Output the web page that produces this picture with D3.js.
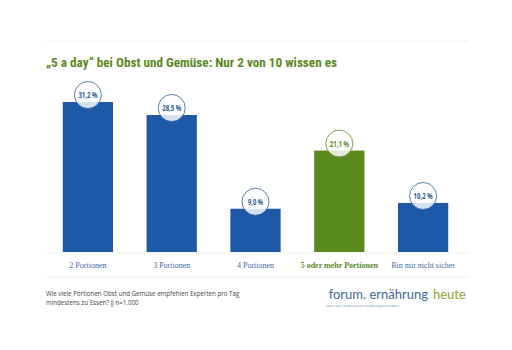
<!DOCTYPE html>
<html>
<head>
<meta charset="utf-8">
<script src="https://cdn.jsdelivr.net/npm/d3@7"></script>
<style>
  body { margin: 0; background: #fff; }
</style>
</head>
<body>
<script>
// data
var categories = ["2 Portionen", "3 Portionen", "4 Portionen", "5 oder mehr Portionen", "Bin mir nicht sicher"];
var values = [31.2, 28.5, 9.0, 21.1, 10.2];
var highlight = [false, false, false, true, false];
var title = "\u201E5 a day\u201C bei Obst und Gem\u00FCse: Nur 2 von 10 wissen es";
var noteLines = ["Wie viele Portionen Obst und Gem\u00FCse empfehlen Experten pro Tag", "mindestens zu Essen? \u2016 n=1.000"];

var blue = "#1d59a6", green = "#5b8a1f", labelBlue = "#3f6aa8";

var svg = d3.select("body").append("svg")
    .attr("width", 512)
    .attr("height", 350);

var left = 46, right = 470, baseY = 252;

// dotted rules
[41, 253, 277].forEach(function (y) {
    svg.append("line")
        .attr("x1", left).attr("x2", right)
        .attr("y1", y).attr("y2", y)
        .attr("stroke", "#dde6cf")
        .attr("stroke-width", 1)
        .attr("stroke-dasharray", "1,1");
});

svg.append("text")
    .attr("x", left).attr("y", 67)
    .attr("font-family", "'Liberation Sans Narrow', 'Roboto Condensed', 'Open Sans', sans-serif")
    .attr("font-weight", "bold")
    .attr("font-size", "13.5px")
    .attr("fill", green)
    .attr("textLength", 291)
    .attr("lengthAdjust", "spacingAndGlyphs")
    .text(title);

var x = d3.scaleBand().domain(categories).range([46, 465]).paddingInner(0.4).paddingOuter(0.2);
var y = d3.scaleLinear().domain([0, 31.2]).range([baseY, 102]);

var fmt = function (v) { return d3.format(".1f")(v).replace(".", ",") + " %"; };

var data = categories.map(function (c, i) { return { cat: c, val: values[i], hi: highlight[i] }; });

svg.append("g").selectAll("rect").data(data).enter()
    .append("rect")
    .attr("x", d => x(d.cat))
    .attr("width", x.bandwidth())
    .attr("y", d => y(d.val))
    .attr("height", d => baseY - y(d.val))
    .attr("fill", d => d.hi ? green : blue);

var badges = svg.append("g").selectAll("g").data(data).enter()
    .append("g")
    .attr("transform", d => "translate(" + (x(d.cat) + x.bandwidth() / 2) + "," + (y(d.val) - 7) + ")");

badges.append("circle")
    .attr("r", 13.5)
    .attr("fill", "#fff")
    .attr("fill-opacity", 0.82)
    .attr("stroke", d => d.hi ? green : "#2d5e9e")
    .attr("stroke-width", 0.8);

badges.append("text")
    .attr("y", 3)
    .attr("text-anchor", "middle")
    .attr("font-family", "'Open Sans', sans-serif")
    .attr("font-weight", "bold")
    .attr("font-size", "8.5px")
    .attr("fill", d => d.hi ? green : "#2a5a9c")
    .attr("textLength", d => d.val < 10 ? 15 : 19)
    .attr("lengthAdjust", "spacingAndGlyphs")
    .text(d => fmt(d.val));

svg.append("g").selectAll("text").data(data).enter()
    .append("text")
    .attr("x", d => x(d.cat) + x.bandwidth() / 2)
    .attr("y", 268)
    .attr("text-anchor", "middle")
    .attr("font-family", "'Liberation Serif', 'DejaVu Serif', serif")
    .attr("font-size", "8px")
    .attr("font-weight", d => d.hi ? "bold" : "normal")
    .attr("fill", d => d.hi ? green : labelBlue)
    .text(d => d.cat);

// footnote
svg.append("g").selectAll("text").data(noteLines).enter()
    .append("text")
    .attr("x", left)
    .attr("y", (d, i) => 296 + i * 9)
    .attr("font-family", "'Open Sans', 'Noto Sans', sans-serif")
    .attr("font-size", "6.2px")
    .attr("fill", "#444")
    .text(d => d);

// logo
svg.append("text")
    .attr("x", 428).attr("y", 299)
    .attr("text-anchor", "end")
    .attr("font-family", "Lato, sans-serif")
    .attr("font-size", "13px")
    .attr("fill", "#3d6a9e")
    .text("forum. ern\u00E4hrung");

svg.append("text")
    .attr("x", 433).attr("y", 299)
    .attr("font-family", "Lato, sans-serif")
    .attr("font-size", "13px")
    .attr("fill", "#8aa63a")
    .text("heute");

svg.append("text")
    .attr("x", 326).attr("y", 307)
    .attr("font-family", "'DejaVu Sans', sans-serif")
    .attr("font-size", "3px")
    .attr("fill", "#6a8ab5")
    .text("Verein zur F\u00F6rderung von Ern\u00E4hrungsinformation");
</script>
</body>
</html>
